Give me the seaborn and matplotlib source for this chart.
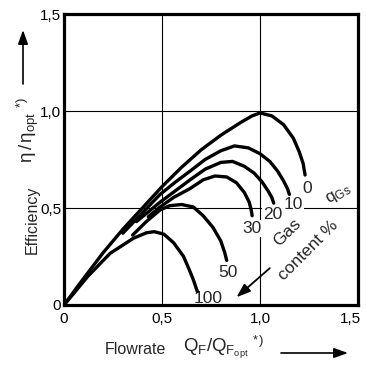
import matplotlib
matplotlib.use("Agg")
import matplotlib.pyplot as plt
import pandas as pd
import seaborn as sns
from matplotlib.transforms import ScaledTranslation

# Relative efficiency vs. relative flowrate for several gas contents q_Gs (%)
gas_content = ["0", "10", "20", "30", "50", "100"]

flow_q0 = [0.0, 0.08, 0.2, 0.3, 0.4, 0.5, 0.6, 0.7, 0.8, 0.9, 0.96, 1.0, 1.06, 1.12, 1.17, 1.2, 1.22, 1.23]
eff_q0 = [0.0, 0.11, 0.27, 0.39, 0.50, 0.61, 0.71, 0.80, 0.875, 0.94, 0.975, 0.99, 0.975, 0.93, 0.86, 0.79, 0.73, 0.67]

flow_q10 = [0.30, 0.40, 0.49, 0.57, 0.643, 0.72, 0.80, 0.87, 0.94, 1.0, 1.05, 1.09, 1.12, 1.14, 1.15]
eff_q10 = [0.37, 0.475, 0.57, 0.635, 0.69, 0.75, 0.795, 0.82, 0.81, 0.78, 0.74, 0.69, 0.64, 0.60, 0.57]

flow_q20 = [0.37, 0.43, 0.49, 0.57, 0.643, 0.72, 0.80, 0.86, 0.92, 0.97, 1.01, 1.04, 1.06, 1.07]
eff_q20 = [0.43, 0.48, 0.53, 0.59, 0.645, 0.70, 0.735, 0.74, 0.715, 0.68, 0.635, 0.59, 0.555, 0.525]

flow_q30 = [0.43, 0.49, 0.56, 0.643, 0.71, 0.77, 0.83, 0.88, 0.92, 0.945, 0.955, 0.96]
eff_q30 = [0.455, 0.505, 0.555, 0.60, 0.645, 0.665, 0.66, 0.63, 0.58, 0.53, 0.49, 0.46]

flow_q50 = [0.35, 0.42, 0.49, 0.54, 0.60, 0.66, 0.71, 0.76, 0.80, 0.82, 0.83]
eff_q50 = [0.36, 0.43, 0.49, 0.512, 0.518, 0.505, 0.46, 0.40, 0.33, 0.27, 0.23]

flow_q100 = [0.0, 0.05, 0.12, 0.235, 0.354, 0.42, 0.46, 0.51, 0.56, 0.61, 0.64, 0.66, 0.68]
eff_q100 = [0.0, 0.06, 0.146, 0.266, 0.344, 0.372, 0.378, 0.365, 0.32, 0.25, 0.18, 0.13, 0.07]

ticks = [0.0, 0.5, 1.0, 1.5]
tick_labels = ["0", "0,5", "1,0", "1,5"]

curves = {
    "0": (flow_q0, eff_q0),
    "10": (flow_q10, eff_q10),
    "20": (flow_q20, eff_q20),
    "30": (flow_q30, eff_q30),
    "50": (flow_q50, eff_q50),
    "100": (flow_q100, eff_q100),
}

frames = []
for g in gas_content:
    fx, fy = curves[g]
    frames.append(pd.DataFrame({"flow": fx, "eff": fy, "gas": g}))
df = pd.concat(frames, ignore_index=True)

sns.set_theme(style="white")
plt.rcParams["font.family"] = ["Liberation Sans", "DejaVu Sans"]
plt.rcParams["mathtext.fontset"] = "custom"
plt.rcParams["mathtext.rm"] = "Liberation Sans"
plt.rcParams["mathtext.it"] = "Liberation Sans"
plt.rcParams["mathtext.bf"] = "Liberation Sans:bold"

W, H = 367, 379
fig = plt.figure(figsize=(W / 100, H / 100), dpi=100)
ax = fig.add_axes([64 / W, 1 - 305 / H, 294 / W, 291 / H])

sns.lineplot(data=df, x="flow", y="eff", units="gas", estimator=None, sort=False,
             color="black", lw=2.4, ax=ax, legend=False, zorder=3)
for ln in ax.lines:
    ln.set_solid_capstyle("round")
    ln.set_solid_joinstyle("round")

ax.set_xlim(0, 1.5)
ax.set_ylim(0, 1.5)
ax.set_xticks(ticks)
ax.set_yticks(ticks)
ax.set_xticklabels(tick_labels, fontsize=11)
ax.set_yticklabels(tick_labels, fontsize=11)
ax.tick_params(length=0, pad=5, colors="black")
ax.tick_params(axis="y", pad=2)
last = ax.get_xticklabels()[-1]
last.set_transform(last.get_transform() + ScaledTranslation(-8 / 100, 0, fig.dpi_scale_trans))
ax.set_xlabel("")
ax.set_ylabel("")
ax.grid(True, color="black", lw=0.8)
ax.set_axisbelow(True)
for s in ax.spines.values():
    s.set_color("black")
    s.set_linewidth(2.3)

# Curve labels just below each curve end
label_offsets = {"0": (2, -13), "10": (4, -10), "20": (-1, -11), "30": (0, -13),
                 "50": (1, -12), "100": (11, -7)}
for g in gas_content:
    fx, fy = curves[g]
    ax.annotate(g, xy=(fx[-1], fy[-1]), xytext=label_offsets[g], textcoords="offset pixels",
                ha="center", va="center", fontsize=12.5, zorder=1.5,
                bbox=dict(boxstyle="square,pad=0.05", fc="white", ec="none"))

ax.text(1.40, 0.57, r"$q_{\rm Gs}$", rotation=30, ha="center", va="center", fontsize=12.5,
        zorder=1.5)
ax.text(1.14, 0.375, "Gas", rotation=45, ha="center", va="center", fontsize=12.5,
        zorder=1.5, bbox=dict(boxstyle="square,pad=0.1", fc="white", ec="none"))
ax.text(1.245, 0.28, "content %", rotation=45, ha="center", va="center", fontsize=12.5,
        zorder=1.5, bbox=dict(boxstyle="square,pad=0.1", fc="white", ec="none"))
ax.annotate("", xy=(0.88, 0.04), xytext=(1.05, 0.19),
            arrowprops=dict(arrowstyle="-|>,head_length=0.7,head_width=0.25",
                            color="black", lw=1.3, shrinkA=0, shrinkB=0), zorder=4)

def P(px, py):
    return px / W, 1 - py / H

# Axis titles
fig.text(*P(32, 220), "Efficiency", rotation=90, ha="center", va="center", fontsize=11.5)
fig.text(*P(28, 130), r"$\eta\,/\,\eta_{\rm opt}$ $^{*)}$", rotation=90, ha="center",
         va="center", fontsize=13.5)
ax.annotate("", xy=(23, H - 30), xytext=(23, H - 84), xycoords="figure pixels",
            textcoords="figure pixels",
            arrowprops=dict(arrowstyle="-|>,head_length=0.7,head_width=0.25",
                            color="black", lw=1.2, shrinkA=0, shrinkB=0))

fig.text(*P(135, 354), "Flowrate", ha="center", va="baseline", fontsize=11.5)
fig.text(*P(183, 352), r"$Q_F/Q_{F_{\rm opt}}$ $^{*)}$", ha="left", va="baseline",
         fontsize=13.5)
ax.annotate("", xy=(348, H - 353), xytext=(281, H - 353), xycoords="figure pixels",
            textcoords="figure pixels",
            arrowprops=dict(arrowstyle="-|>,head_length=0.7,head_width=0.25",
                            color="black", lw=1.2, shrinkA=0, shrinkB=0))

fig.savefig("out.png", dpi=100, facecolor="white")
